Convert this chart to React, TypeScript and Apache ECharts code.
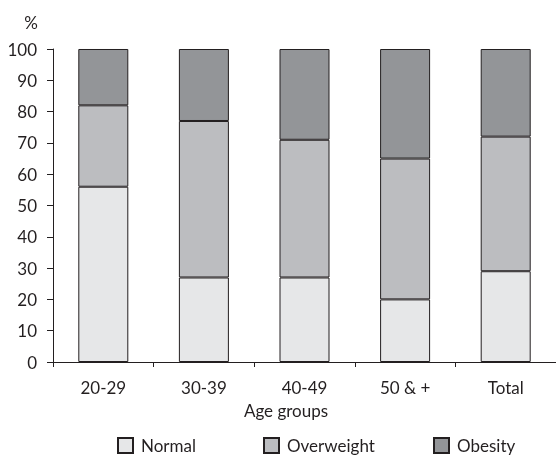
import React, { useEffect, useRef } from "react";
import * as echarts from "echarts";

const categories = ["20-29", "30-39", "40-49", "50 & +", "Total"];
const normal = [56, 27, 27, 20, 29];
const overweight = [26, 50, 44, 45, 43];
const obesity = [18, 23, 29, 35, 28];
const seriesNames = ["Normal", "Overweight", "Obesity"];
const yTicks = { min: 0, max: 100, interval: 10 };

const FONT = "Lato, 'Noto Sans', sans-serif";
const INK = "#231f20";
const COLORS = ["#e6e7e8", "#bcbdc0", "#939598"];

export default function App() {
  const ref = useRef<HTMLDivElement>(null);
  useEffect(() => {
    if (!ref.current) return;
    const chart = echarts.init(ref.current, null, { renderer: "svg" });
    const values = [normal, overweight, obesity];
    const legendLefts = [117, 263, 433];
    chart.setOption({
      animation: false,
      textStyle: { fontFamily: FONT, color: INK },
      grid: { left: 53, top: 49, right: -12, bottom: 98 },
      legend: seriesNames.map((n, i) => ({
        data: [n],
        left: legendLefts[i],
        top: 437,
        padding: 0,
        itemWidth: 15,
        itemHeight: 15,
        icon: "rect",
        itemGap: 0,
        selectedMode: false,
        textStyle: { fontFamily: FONT, fontSize: 17, color: INK, padding: [0, 0, 0, 3] },
      })),
      xAxis: {
        type: "category",
        data: categories,
        axisLine: { lineStyle: { color: INK, width: 1 } },
        axisTick: { show: true, length: 5, lineStyle: { color: INK } },
        axisLabel: { fontFamily: FONT, fontSize: 17, color: INK, margin: 17 },
      },
      yAxis: {
        type: "value",
        min: yTicks.min,
        max: yTicks.max,
        interval: yTicks.interval,
        axisLine: { show: true, lineStyle: { color: INK, width: 1 } },
        axisTick: { show: true, length: 6, lineStyle: { color: INK } },
        splitLine: { show: false },
        axisLabel: { fontFamily: FONT, fontSize: 17, color: INK, margin: 16 },
      },
      graphic: [
        {
          type: "text",
          x: 31,
          y: 22,
          style: { text: "%", font: `17px ${FONT}`, fill: INK, align: "center", verticalAlign: "middle" },
        },
        {
          type: "text",
          x: 286,
          y: 410,
          style: { text: "Age groups", font: `17px ${FONT}`, fill: INK, align: "center", verticalAlign: "middle" },
        },
      ],
      series: seriesNames.map((n, i) => ({
        name: n,
        type: "bar",
        stack: "total",
        barWidth: 50,
        data: values[i],
        itemStyle: { color: COLORS[i], borderColor: INK, borderWidth: 1 },
      })),
    });
    return () => chart.dispose();
  }, []);
  return <div ref={ref} style={{ position: "fixed", left: 0, top: 0, width: 556, height: 460 }} />;
}
